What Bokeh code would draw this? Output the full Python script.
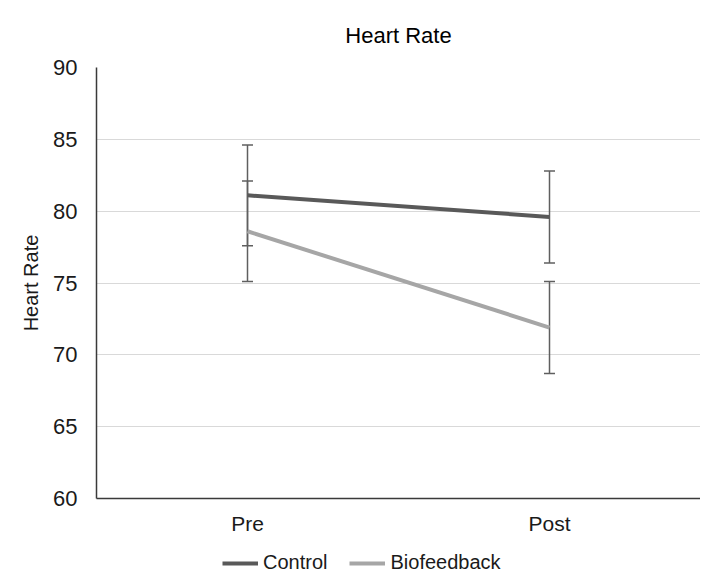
from bokeh.plotting import figure
from bokeh.layouts import column
from bokeh.models import ColumnDataSource, Whisker, Legend, LegendItem, Range1d, FactorRange, TeeHead
from bokeh.embed import file_html
from bokeh.resources import INLINE

categories = ["Pre", "Post"]
control = [81.1, 79.6]
control_err = [3.5, 3.2]
biofeedback = [78.6, 71.9]
biofeedback_err = [3.5, 3.2]
y_ticks = [60, 65, 70, 75, 80, 85, 90]
series_names = ["Control", "Biofeedback"]

FONT = "Liberation Sans"
CTRL_COLOR = "#595959"
BIO_COLOR = "#a6a6a6"
ERR_COLOR = "#5f5f5f"
TEXT_COLOR = "#1a1a1a"

p = figure(width=700, height=540, x_range=FactorRange(*categories), y_range=Range1d(60, 90),
           output_backend="svg", toolbar_location=None,
           min_border_left=96, min_border_right=0, min_border_top=67, min_border_bottom=42)
p.outline_line_color = None

p.title.text = "Heart Rate"
p.title.align = "center"
p.title.text_font = FONT
p.title.text_font_size = "22px"
p.title.text_font_style = "normal"
p.title.text_color = "#000000"
p.title.standoff = 39

src_c = ColumnDataSource(dict(x=categories, y=control,
                              upper=[v + e for v, e in zip(control, control_err)],
                              lower=[v - e for v, e in zip(control, control_err)]))
src_b = ColumnDataSource(dict(x=categories, y=biofeedback,
                              upper=[v + e for v, e in zip(biofeedback, biofeedback_err)],
                              lower=[v - e for v, e in zip(biofeedback, biofeedback_err)]))

p.line("x", "y", source=src_c, line_color=CTRL_COLOR, line_width=4)
p.line("x", "y", source=src_b, line_color=BIO_COLOR, line_width=4)

for src in (src_c, src_b):
    w = Whisker(base="x", upper="upper", lower="lower", source=src,
                line_color=ERR_COLOR, line_width=1.5,
                upper_head=TeeHead(size=11, line_color=ERR_COLOR, line_width=1.5),
                lower_head=TeeHead(size=11, line_color=ERR_COLOR, line_width=1.5))
    p.add_layout(w)

# axes
p.yaxis.ticker = y_ticks
p.yaxis.major_tick_line_color = None
p.yaxis.major_tick_out = 0
p.yaxis.major_tick_in = 0
p.yaxis.minor_tick_line_color = None
p.yaxis.axis_line_color = "#3a3a3a"
p.yaxis.axis_line_width = 1.5
p.yaxis.major_label_text_font = FONT
p.yaxis.major_label_text_font_size = "22px"
p.yaxis.major_label_text_color = TEXT_COLOR
p.yaxis.major_label_standoff = 19
p.yaxis.axis_label = "Heart Rate"
p.yaxis.axis_label_text_font = FONT
p.yaxis.axis_label_text_font_size = "20px"
p.yaxis.axis_label_text_font_style = "normal"
p.yaxis.axis_label_text_color = TEXT_COLOR
p.yaxis.axis_label_standoff = 8

p.xaxis.major_tick_line_color = None
p.xaxis.major_tick_out = 0
p.xaxis.major_tick_in = 0
p.xaxis.minor_tick_line_color = None
p.xaxis.axis_line_color = "#3a3a3a"
p.xaxis.axis_line_width = 1.5
p.xaxis.major_label_text_font = FONT
p.xaxis.major_label_text_font_size = "21px"
p.xaxis.major_label_text_color = TEXT_COLOR
p.xaxis.major_label_standoff = 13

p.xgrid.grid_line_color = None
p.ygrid.grid_line_color = "#d9d9d9"
p.ygrid.grid_line_width = 1.2

# legend strip below the chart (legend-only renderers lie outside its visible range)
p2 = figure(width=700, height=36, x_range=Range1d(0, 1), y_range=Range1d(0, 1),
            x_axis_type=None, y_axis_type=None, output_backend="svg",
            toolbar_location=None, min_border=0)
p2.outline_line_color = None
l_c = p2.line(x=[-2, -1], y=[-2, -1], line_color=CTRL_COLOR, line_width=4)
l_b = p2.line(x=[-2, -1], y=[-2, -1], line_color=BIO_COLOR, line_width=4)
legend = Legend(items=[LegendItem(label=series_names[0], renderers=[l_c]),
                       LegendItem(label=series_names[1], renderers=[l_b])],
                orientation="horizontal", location=(126, 2),
                border_line_color=None, background_fill_alpha=0,
                label_text_font=FONT, label_text_font_size="20px", label_text_color=TEXT_COLOR,
                glyph_width=36, glyph_height=20, label_standoff=5, spacing=22,
                padding=0, margin=0)
p2.add_layout(legend, "center")

layout = column(p, p2, spacing=0)
open("out.html", "w").write(file_html(layout, INLINE))
